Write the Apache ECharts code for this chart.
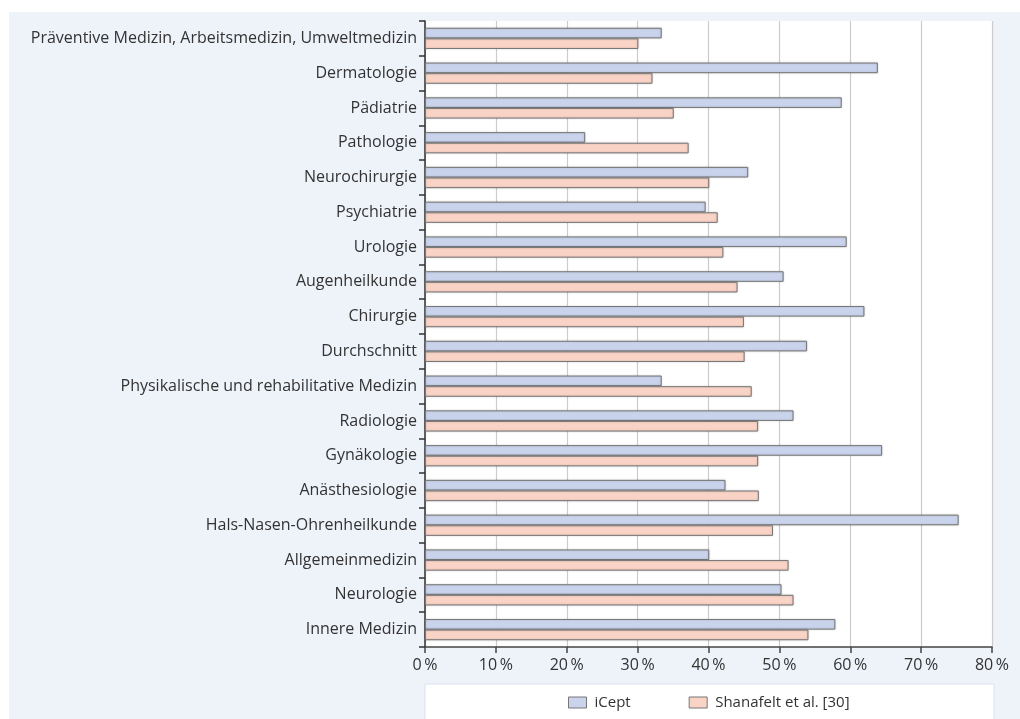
<!DOCTYPE html>
<html>
<head>
<meta charset="utf-8">
<script src="https://cdn.jsdelivr.net/npm/echarts@6/dist/echarts.min.js"></script>
<style>
html,body{margin:0;padding:0;background:#fff;}
#c{width:1020px;height:719px;}
</style>
</head>
<body>
<div id="c"></div>
<script>
const categories = [
  "Präventive Medizin, Arbeitsmedizin, Umweltmedizin",
  "Dermatologie",
  "Pädiatrie",
  "Pathologie",
  "Neurochirurgie",
  "Psychiatrie",
  "Urologie",
  "Augenheilkunde",
  "Chirurgie",
  "Durchschnitt",
  "Physikalische und rehabilitative Medizin",
  "Radiologie",
  "Gynäkologie",
  "Anästhesiologie",
  "Hals-Nasen-Ohrenheilkunde",
  "Allgemeinmedizin",
  "Neurologie",
  "Innere Medizin"
];
const icept = [33.4, 63.9, 58.8, 22.6, 45.6, 39.6, 59.5, 50.6, 62.0, 53.9, 33.4, 52.0, 64.5, 42.4, 75.3, 40.1, 50.3, 57.9];
const shanafelt = [30.1, 32.1, 35.1, 37.2, 40.1, 41.3, 42.1, 44.1, 45.0, 45.1, 46.1, 47.0, 47.0, 47.1, 49.1, 51.3, 52.0, 54.1];
const seriesNames = ["iCept", "Shanafelt et al. [30]"];
const xTicks = [0, 10, 20, 30, 40, 50, 60, 70, 80];

const FONT = "Open Sans";
const chart = echarts.init(document.getElementById('c'));
const barStyle = (c) => ({
  color: c,
  borderColor: '#777777',
  borderWidth: 1,
  shadowColor: 'rgba(0,0,0,0.18)',
  shadowBlur: 2
});
chart.setOption({
  backgroundColor: '#ffffff',
  textStyle: {fontFamily: FONT},
  animation: false,
  graphic: [
    {type: 'rect', z: -10, silent: true, shape: {x: 9, y: 12, width: 1011, height: 707}, style: {fill: '#eef2f9'}},
    {type: 'rect', z: -5, silent: true, shape: {x: 425, y: 684, width: 569, height: 40}, style: {fill: '#ffffff', stroke: '#dae2f1', lineWidth: 1}}
  ],
  grid: {
    left: 425, right: 28, top: 21, bottom: 72,
    show: true, backgroundColor: '#ffffff', borderWidth: 0, containLabel: false
  },
  legend: {
    data: seriesNames,
    left: 563, top: 690,
    itemWidth: 18, itemHeight: 11, itemGap: 58,
    icon: 'rect',
    itemStyle: {borderColor: '#777777', borderWidth: 1},
    textStyle: {fontFamily: FONT, fontSize: 15, color: '#333333', padding: [0, 0, 0, 3]}
  },
  xAxis: {
    type: 'value', min: 0, max: 80, interval: 10,
    axisLine: {show: true, lineStyle: {color: '#444444', width: 1.5}},
    axisTick: {show: true, length: 6, lineStyle: {color: '#444444', width: 1.5}},
    splitLine: {show: true, lineStyle: {color: '#cccccc', width: 1.2}},
    axisLabel: {
      fontFamily: FONT, fontSize: 16, color: '#333333', margin: 10,
      formatter: (v) => xTicks.includes(v) ? v + '\u2009%' : ''
    }
  },
  yAxis: {
    type: 'category', data: categories, inverse: true,
    axisLine: {show: true, lineStyle: {color: '#333333', width: 1.5}},
    axisTick: {show: true, length: 6, lineStyle: {color: '#333333', width: 1.5}},
    axisLabel: {fontFamily: FONT, fontSize: 16, color: '#333333', margin: 8}
  },
  series: [
    {name: seriesNames[0], type: 'bar', data: icept, barGap: '0%', barCategoryGap: '39%', itemStyle: barStyle('#c9d3ec')},
    {name: seriesNames[1], type: 'bar', data: shanafelt, barGap: '0%', barCategoryGap: '39%', itemStyle: barStyle('#f9d3c5')}
  ]
});
</script>
</body>
</html>
